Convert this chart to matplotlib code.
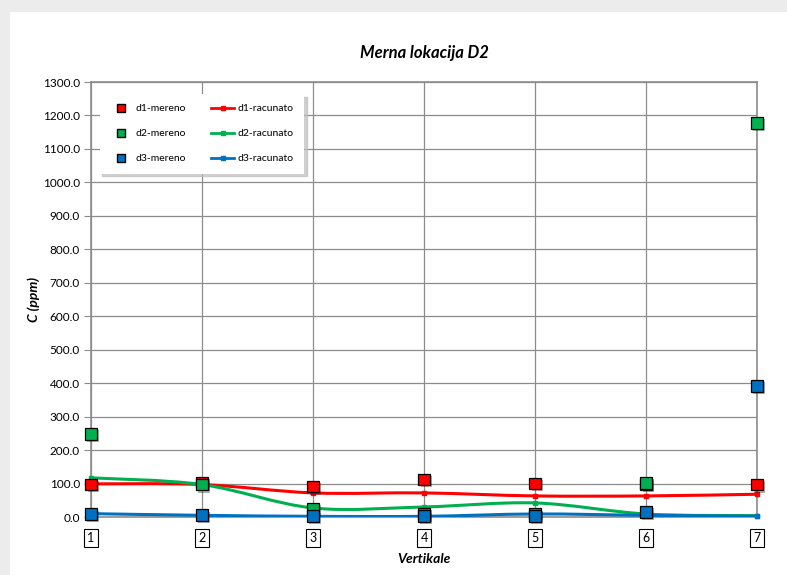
import matplotlib
matplotlib.use("Agg")
import matplotlib.pyplot as plt
import matplotlib.patches as mpatches
import matplotlib.patheffects as pe
from matplotlib.path import Path
from matplotlib.lines import Line2D

# =============================================================================
# DATA
# =============================================================================
vertikale = [1, 2, 3, 4, 5, 6, 7]

d1_mereno = [97, 102, 90, 113, 101, 98, 96]
d2_mereno = [248, 97, 25, 10, 8, 101, 1178]
d3_mereno = [8, 5, 2, 2, 3, 15, 392]

d1_racunato = [99, 97, 72, 72, 63, 63, 68]
d2_racunato = [117, 97, 27, 30, 42, 9, 4]
d3_racunato = [10, 5, 2, 2, 9, 5, 2]

y_ticks = [i * 100 for i in range(14)]

RED = "#FF0000"
GREEN = "#00B050"
BLUE = "#0070C0"
FONT = "Lato"


def smooth_path(xs, ys):
    # Excel-like smoothed line: cubic bezier through every point
    pts = list(zip(xs, ys))
    ext = [pts[0]] + pts + [pts[-1]]
    verts = [pts[0]]
    codes = [Path.MOVETO]
    for i in range(1, len(ext) - 2):
        p0, p1, p2, p3 = ext[i - 1], ext[i], ext[i + 1], ext[i + 2]
        c1 = (p1[0] + (p2[0] - p0[0]) / 6, p1[1] + (p2[1] - p0[1]) / 6)
        c2 = (p2[0] - (p3[0] - p1[0]) / 6, p2[1] - (p3[1] - p1[1]) / 6)
        verts += [c1, c2, p2]
        codes += [Path.CURVE4] * 3
    return Path(verts, codes)


# =============================================================================
# FIGURE
# =============================================================================
fig = plt.figure(figsize=(7.87, 5.75), dpi=100, facecolor="#ececec")
# white panel with soft shadow
fig.patches.append(mpatches.Rectangle((12 / 787, 0), 1, 1 - 14 / 575,
                                      transform=fig.transFigure,
                                      facecolor="#d4d4d4", edgecolor="none", zorder=-2))
fig.patches.append(mpatches.Rectangle((10 / 787, 0), 1, 1 - 12 / 575,
                                      transform=fig.transFigure,
                                      facecolor="white", edgecolor="none", zorder=-1))

ax = fig.add_axes([91 / 787, 1 - 517 / 575, 666 / 787, 435 / 575])
ax.set_facecolor("white")

shadow = [pe.SimplePatchShadow(offset=(1.5, -1.5), alpha=0.35), pe.Normal()]

for ys, col in [(d1_racunato, RED), (d2_racunato, GREEN), (d3_racunato, BLUE)]:
    ax.add_patch(mpatches.PathPatch(smooth_path(vertikale, ys), facecolor="none",
                                    edgecolor=col, linewidth=2.2, zorder=3,
                                    capstyle="round"))
    ax.plot(vertikale, ys, linestyle="none", marker="s", markersize=3,
            color=col, zorder=3, clip_on=False)

for ys, col, ms in [(d1_mereno, RED, 8), (d2_mereno, GREEN, 8.5), (d3_mereno, BLUE, 8.5)]:
    ax.plot(vertikale, ys, linestyle="none", marker="s", markersize=ms,
            markerfacecolor=col, markeredgecolor="black", markeredgewidth=0.9,
            zorder=4, clip_on=False, path_effects=shadow)

ax.set_xlim(1, 7)
ax.set_ylim(0, 1300)
ax.set_yticks(y_ticks)
ax.set_yticklabels([f"{v:.1f}" for v in y_ticks], fontsize=8.5, family=FONT)
ax.set_xticks(vertikale)
ax.set_xticklabels([str(v) for v in vertikale], fontsize=9, family=FONT)
for lbl in ax.get_xticklabels():
    lbl.set_bbox(dict(boxstyle="square,pad=0.25", facecolor="white",
                      edgecolor="black", linewidth=0.8))

ax.grid(True, color="#8c8c8c", linewidth=0.9)
ax.set_axisbelow(True)
for s in ax.spines.values():
    s.set_color("#8c8c8c")
    s.set_linewidth(1.2)
ax.tick_params(axis="y", length=5, color="#8c8c8c", pad=3)
ax.tick_params(axis="x", length=0, pad=11)

ax.set_xlabel("Vertikale", fontsize=10, fontweight="bold", fontstyle="italic",
              family=FONT, labelpad=6)
ax.set_ylabel("C (ppm)", fontsize=10, fontweight="bold", fontstyle="italic",
              family=FONT, labelpad=2)
ax.set_title("Merna lokacija D2", fontsize=12, fontweight="bold", fontstyle="italic",
             family=FONT, pad=17)

handles = [
    Line2D([], [], linestyle="none", marker="s", markersize=6, markerfacecolor=RED,
           markeredgecolor="black", label="d1-mereno"),
    Line2D([], [], linestyle="none", marker="s", markersize=6, markerfacecolor=GREEN,
           markeredgecolor="black", label="d2-mereno"),
    Line2D([], [], linestyle="none", marker="s", markersize=6, markerfacecolor=BLUE,
           markeredgecolor="black", label="d3-mereno"),
    Line2D([], [], color=RED, linewidth=2, marker="s", markersize=3, label="d1-racunato"),
    Line2D([], [], color=GREEN, linewidth=2, marker="s", markersize=3, label="d2-racunato"),
    Line2D([], [], color=BLUE, linewidth=2, marker="s", markersize=3, label="d3-racunato"),
]
leg = ax.legend(handles=handles, ncol=2, loc="upper left",
                bbox_to_anchor=(0.005, 0.985), frameon=True,
                fancybox=False, shadow={"color": "#bdbdbd", "alpha": 0.7},
                edgecolor="none", facecolor="white",
                framealpha=1, labelspacing=1.5, columnspacing=2.4,
                handlelength=2.2, handletextpad=0.3, borderpad=1.0,
                prop={"family": FONT, "size": 7.5})
leg.set_zorder(5)

fig.savefig("out.png", dpi=100, facecolor=fig.get_facecolor())
